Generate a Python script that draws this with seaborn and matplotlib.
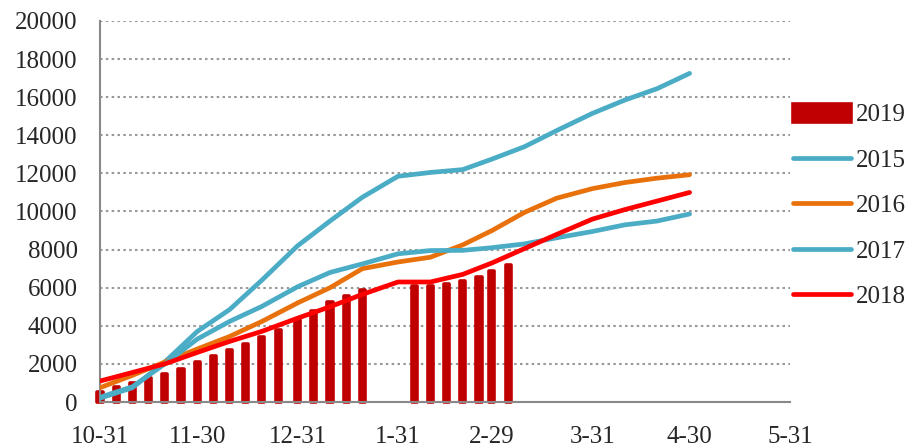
import numpy as np
import pandas as pd
import matplotlib
matplotlib.use("Agg")
import matplotlib.pyplot as plt
import seaborn as sns
from matplotlib.patches import Patch
from matplotlib.lines import Line2D

# ---------------- data ----------------
season_start = "2019-10-31"

bar_dates = ["2019-10-31", "2019-11-05", "2019-11-10", "2019-11-15", "2019-11-20",
             "2019-11-25", "2019-11-30", "2019-12-05", "2019-12-10", "2019-12-15",
             "2019-12-20", "2019-12-25", "2019-12-31", "2020-01-05", "2020-01-10",
             "2020-01-15", "2020-01-20",
             "2020-02-05", "2020-02-10", "2020-02-15", "2020-02-20", "2020-02-25",
             "2020-02-29", "2020-03-05"]
values_2019 = [500, 800, 1000, 1260, 1470, 1730, 2080, 2390, 2750, 3060, 3410, 3800,
               4280, 4790, 5250, 5580, 5900,
               6070, 6100, 6190, 6330, 6560, 6860, 7170]

line_dates = ["2019-10-31", "2019-11-10", "2019-11-20", "2019-11-30", "2019-12-10",
              "2019-12-20", "2019-12-31", "2020-01-10", "2020-01-20", "2020-01-31",
              "2020-02-10", "2020-02-20", "2020-02-29", "2020-03-10", "2020-03-20",
              "2020-03-31", "2020-04-10", "2020-04-20", "2020-04-30"]
values_2015 = [200, 750, 2100, 3700, 4850, 6400, 8200, 9500, 10750, 11850,
               12050, 12200, 12750, 13400, 14250, 15150, 15850, 16450, 17250]
values_2016 = [750, 1400, 2100, 2780, 3440, 4230, 5200, 6000, 7000, 7350,
               7600, 8250, 9000, 9950, 10700, 11200, 11520, 11750, 11930]
values_2017 = [250, 800, 2000, 3300, 4230, 5020, 6050, 6800, 7250, 7780,
               7950, 7960, 8100, 8300, 8620, 8950, 9300, 9500, 9870]
values_2018 = [1100, 1550, 2000, 2600, 3180, 3710, 4400, 5000, 5650, 6300,
               6300, 6700, 7300, 8050, 8800, 9600, 10100, 10550, 11000]

tick_dates = ["2019-10-31", "2019-11-30", "2019-12-31", "2020-01-31",
              "2020-02-29", "2020-03-31", "2020-04-30", "2020-05-31"]
tick_labels = ["10-31", "11-30", "12-31", "1-31", "2-29", "3-31", "4-30", "5-31"]

years = ["2015", "2016", "2017", "2018"]
colors = {"2015": "#4BACC6", "2016": "#E8710C", "2017": "#4BACC6", "2018": "#FF0000"}
bar_color = "#C00000"


def to_day(ds):
    return (pd.to_datetime(ds) - pd.Timestamp(season_start)).days.to_numpy()


# ---------------- style ----------------
sns.set_style("white")
plt.rcParams['font.family'] = ['Liberation Serif', 'DejaVu Serif']
FS = 18

fig = plt.figure(figsize=(9.07, 4.48), dpi=100)
ax = fig.add_axes([100 / 907, 1 - 402 / 448, 690 / 907, 381 / 448])

bar_df = pd.DataFrame({"day": to_day(bar_dates), "value": values_2019})
sns.barplot(data=bar_df, x="day", y="value", native_scale=True, width=0.39,
            color=bar_color, saturation=1, ax=ax, zorder=2)
for p in ax.patches:
    p.set_edgecolor(bar_color)
    p.set_linewidth(2.6)
    p.set_joinstyle("round")
    p.set_clip_on(False)

series = {"2015": values_2015, "2016": values_2016, "2017": values_2017, "2018": values_2018}
line_df = pd.concat([
    pd.DataFrame({"day": to_day(line_dates), "value": v, "year": y})
    for y, v in series.items()
])
sns.lineplot(data=line_df, x="day", y="value", hue="year", hue_order=years,
             palette=colors, linewidth=3.4, ax=ax, legend=False, zorder=3,
             solid_capstyle="round", solid_joinstyle="round")

ax.set_xlim(0, 213)
ax.set_ylim(0, 20000)
ax.set_yticks(np.arange(0, 20001, 2000))
ax.set_xticks(to_day(tick_dates))
ax.set_xticklabels(tick_labels)
ax.set_xlabel("")
ax.set_ylabel("")

ax.yaxis.grid(True, linestyle=(0, (1.2, 1.6)), color="#999999", linewidth=1.5)
ax.xaxis.grid(False)
ax.set_axisbelow(True)
for s in ["top", "right"]:
    ax.spines[s].set_visible(False)
for s in ["left", "bottom"]:
    ax.spines[s].set_color("#898989")
    ax.spines[s].set_linewidth(1.5)
ax.spines["bottom"].set_zorder(2.5)

ax.tick_params(axis="y", direction="out", length=6, width=1.5, color="#898989",
               pad=10, labelsize=FS)
ax.tick_params(axis="x", direction="out", length=5, width=1.5, color="#898989",
               pad=12, labelsize=FS)

handles = [Patch(facecolor=bar_color, edgecolor=bar_color, joinstyle="round", linewidth=2.6)]
handles += [Line2D([0], [0], color=colors[y], linewidth=3.4, solid_capstyle="round")
            for y in years]
labels = ["2019"] + years
ax.legend(handles, labels, loc="center left", bbox_to_anchor=(1.005, 0.515),
          frameon=False, fontsize=FS, borderaxespad=0, borderpad=0,
          handlelength=2.3, handleheight=0.75, handletextpad=0.2, labelspacing=0.9)

fig.savefig("out.png", dpi=100)
